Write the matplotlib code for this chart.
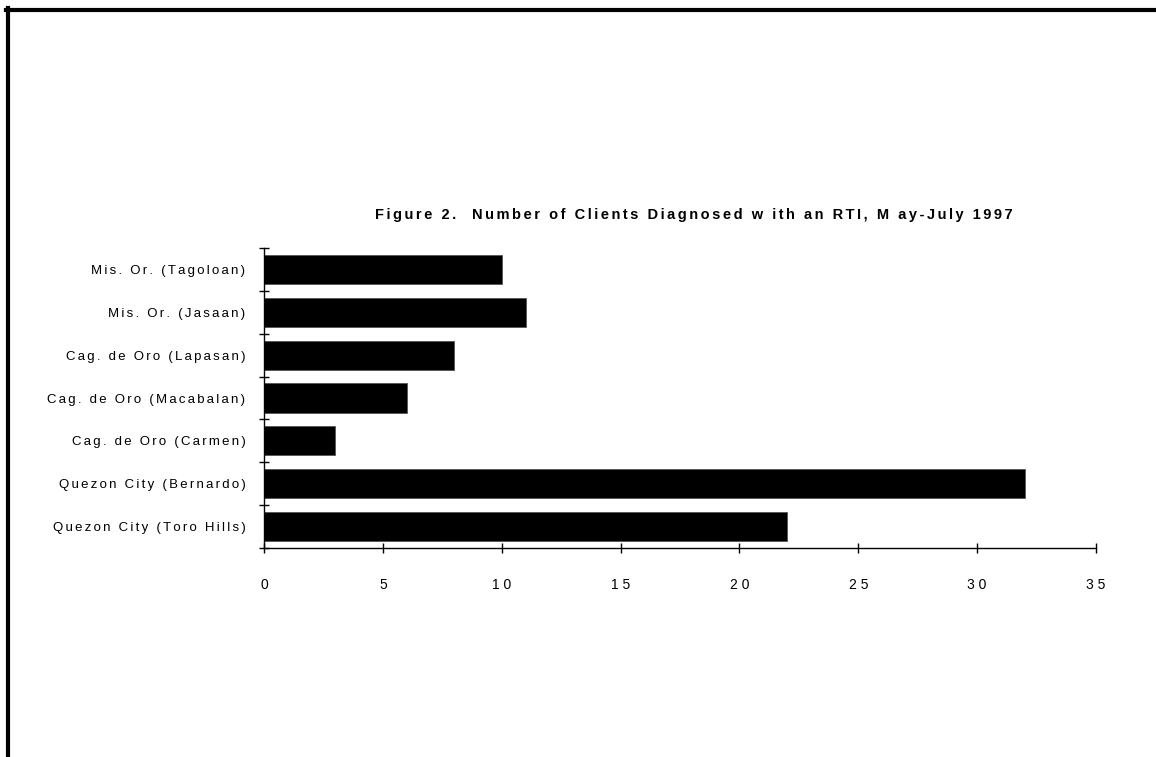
import matplotlib.pyplot as plt
from matplotlib.lines import Line2D
import numpy as np

sites = ['Mis. Or. (Tagoloan)', 'Mis. Or. (Jasaan)', 'Cag. de Oro (Lapasan)',
         'Cag. de Oro (Macabalan)', 'Cag. de Oro (Carmen)',
         'Quezon City (Bernardo)', 'Quezon City (Toro Hills)']
clients = [10, 11, 8, 6, 3, 32, 22]
xticks = [0, 5, 10, 15, 20, 25, 30, 35]
title = 'Figure 2.  Number of Clients Diagnosed w ith an RTI, M ay-July 1997'

plt.rcParams['font.family'] = ['Liberation Sans', 'DejaVu Sans']


def spaced(s, sep='\u200a\u200a'):
    # loose letter tracking
    return sep.join(s)


fig = plt.figure(figsize=(11.56, 7.57), dpi=100)
ax = fig.add_axes([0.2284, 0.276, 0.7197, 0.3964])

y = np.arange(len(sites))
ax.barh(y, clients, height=0.68, color='black', edgecolor='#555555', linewidth=0.6)

ax.set_ylim(len(sites) - 0.5, -0.5)
ax.set_xlim(0, 35)

# category labels sit between the boundary ticks
ax.set_yticks(y)
ax.set_yticklabels([spaced(s) for s in sites], fontsize=9.5)
ax.set_yticks(np.arange(len(sites) + 1) - 0.5, minor=True)
ax.tick_params(axis='y', which='major', length=0, pad=13.5)
ax.tick_params(axis='y', which='minor', direction='inout', length=7, width=1)

ax.set_xticks(xticks)
ax.set_xticklabels([' '.join(str(t)) for t in xticks], fontsize=10)
ax.tick_params(axis='x', direction='inout', length=7, width=1, pad=18)

for side in ['top', 'right']:
    ax.spines[side].set_visible(False)
for side in ['left', 'bottom']:
    ax.spines[side].set_linewidth(1)

ax.text(0.5 + 14 / 832, 1 + 33 / 300, spaced(title), transform=ax.transAxes,
        ha='center', va='center', fontsize=10.5, fontweight='bold')

# page frame: top and left edges
fig.add_artist(Line2D([6 / 1156, 1.0], [1 - 10 / 757, 1 - 10 / 757],
                      transform=fig.transFigure, color='black', linewidth=3))
fig.add_artist(Line2D([8 / 1156, 8 / 1156], [0.0, 1 - 8 / 757],
                      transform=fig.transFigure, color='black', linewidth=3))

fig.savefig('out.png', dpi=100, facecolor='white')
